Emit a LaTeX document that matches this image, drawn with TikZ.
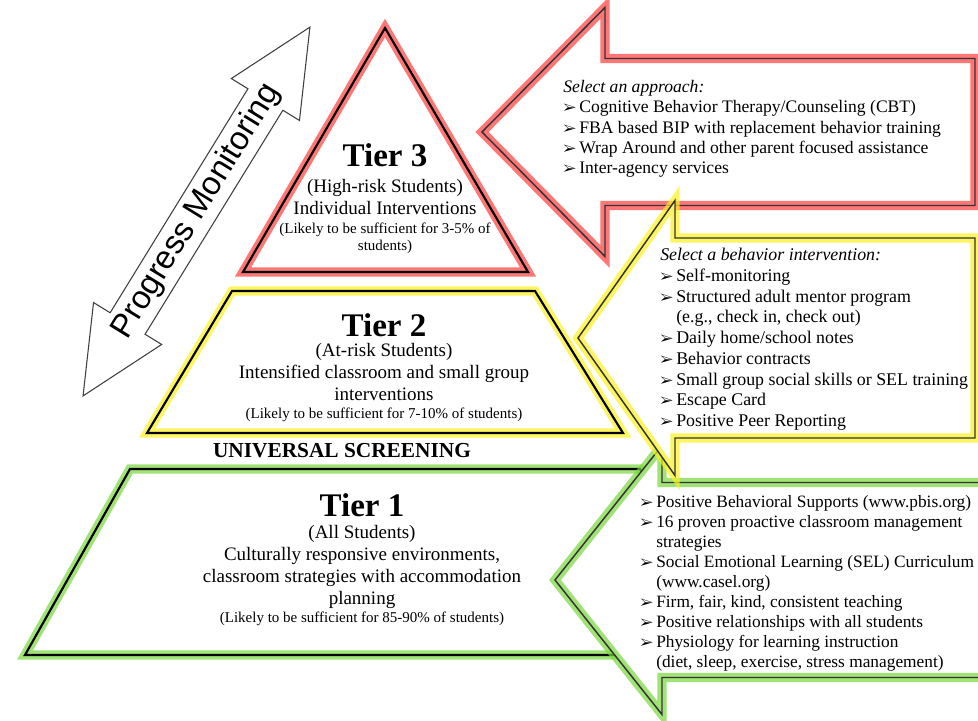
\documentclass[tikz,border=0pt]{standalone}
\usepackage{fontspec}
\setmainfont{Liberation Serif}
\setsansfont{Liberation Sans}
\usepackage{pifont}
\usetikzlibrary{positioning}
\definecolor{glowred}{RGB}{255,60,60}
\definecolor{glowyellow}{RGB}{252,242,30}
\definecolor{glowgreen}{RGB}{120,215,60}
\newcommand*{\sidearrow}[7]{% style, tip x, tip y, neck x, head half, shaft half, end x
		\draw[#1] (#2,#3) -- (#4,#3-#5) -- (#4,#3-#6) -- (#7,#3-#6) -- (#7,#3+#6) -- (#4,#3+#6) -- (#4,#3+#5) -- cycle;
}
\newcommand*{\tiertitle}[1]{{\fontsize{24.75}{28}\selectfont\bfseries #1}}
\newcommand*{\tiernote}[1]{{\fontsize{11.25}{13}\selectfont #1}}
\newcommand*{\arrowmark}{\makebox[12pt][l]{\fontsize{10.5}{10.5}\selectfont\ding{226}}}
\newcommand*{\indentline}{\hspace*{12pt}}
\tikzset{tier/.style={draw=black, line width=1.6pt, line join=miter, preaction={fill=white}, preaction={draw=#1, line width=7pt, opacity=0.7, line join=miter}}}
\tikzset{sidebox/.style={draw=black!80, line width=1.1pt, line join=miter, preaction={fill=white}, preaction={draw=#1, line width=7pt, opacity=0.7, line join=miter}}}
\tikzset{tiertext/.style={align=center, inner sep=0pt, anchor=north, font=\fontsize{14.25}{16.5}\selectfont}}
\tikzset{listtext/.style={align=left, inner sep=0pt, anchor=north west, font=\fontsize{13.2}{15.2}\selectfont}}

\begin{document}
\begin{tikzpicture}[x=0.75pt, y=-0.75pt]
	\useasboundingbox (0,0) rectangle (978,721);
	\clip (0,0) rectangle (978,721);
	\begin{scope}[shift={(196.5,211.5)}, rotate=58.4]
		\draw[black!75, line width=0.8pt, line join=miter, fill=white] (216.5,0) -- (131.5,40) -- (131.5,20.5) -- (-131.5,20.5) -- (-131.5,40) -- (-216.5,0) -- (-131.5,-40) -- (-131.5,-20.5) -- (131.5,-20.5) -- (131.5,-40) -- cycle;
		\node[font=\sffamily\fontsize{24.5}{28}\selectfont, rotate=58.4] (progress) at (0,0) {Progress Monitoring};
	\end{scope}
	\draw[tier=glowred] (385,28) -- (528,272) -- (243,272) -- cycle;
	\draw[tier=glowyellow] (232,291) -- (535,291) -- (623,433) -- (147,433) -- cycle;
	\draw[tier=glowgreen] (130,469) -- (640,469) -- (745,655) -- (25,655) -- cycle;
	\sidearrow{sidebox=glowred}{482}{132}{605}{124.5}{73.5}{975}
	\sidearrow{sidebox=glowgreen}{555}{580}{662}{134.5}{97.5}{1000}
	\sidearrow{sidebox=glowyellow}{578}{338}{675}{137.5}{100}{975}
	\node[tiertext] (tierthree) at (385,143) {\tiertitle{Tier 3}\\[3pt] (High-risk Students)\\ Individual Interventions\\[-2.25pt] \tiernote{(Likely to be sufficient for 3-5\% of}\\[-3.75pt] \tiernote{students)}};
	\node[tiertext] (tiertwo) at (384,313) {\tiertitle{Tier 2}\\[-1.5pt] (At-risk Students)\\ Intensified classroom and small group\\ interventions\\[-3pt] \tiernote{(Likely to be sufficient for 7-10\% of students)}};
	\node[font=\fontsize{16}{19}\selectfont\bfseries, inner sep=0pt] (screening) at (342,451) {UNIVERSAL SCREENING};
	\node[tiertext] (tierone) at (362,493) {\tiertitle{Tier 1}\\ (All Students)\\ Culturally responsive environments,\\ classroom strategies with accommodation\\ planning\\[-3pt] \tiernote{(Likely to be sufficient for 85-90\% of students)}};
	\node[listtext] (approachlist) at (563,80) {\textit{Select an approach:}\\ \arrowmark Cognitive Behavior Therapy/Counseling (CBT)\\ \arrowmark FBA based BIP with replacement behavior training\\ \arrowmark Wrap Around and other parent focused assistance\\ \arrowmark Inter-agency services};
	\node[listtext, font=\fontsize{13.4}{15.55}\selectfont] (behaviorlist) at (660,248) {\textit{Select a behavior intervention:}\\ \arrowmark Self-monitoring\\ \arrowmark Structured adult mentor program\\ \indentline (e.g., check in, check out)\\ \arrowmark Daily home/school notes\\ \arrowmark Behavior contracts\\ \arrowmark Small group social skills or SEL training\\ \arrowmark Escape Card\\ \arrowmark Positive Peer Reporting};
	\node[listtext, font=\fontsize{13}{15}\selectfont] (universallist) at (640,495) {\arrowmark Positive Behavioral Supports (www.pbis.org)\\ \arrowmark 16 proven proactive classroom management\\ \indentline strategies\\ \arrowmark Social Emotional Learning (SEL) Curriculum\\ \indentline (www.casel.org)\\ \arrowmark Firm, fair, kind, consistent teaching\\ \arrowmark Positive relationships with all students\\ \arrowmark Physiology for learning instruction\\ \indentline (diet, sleep, exercise, stress management)};
\end{tikzpicture}
\end{document}
